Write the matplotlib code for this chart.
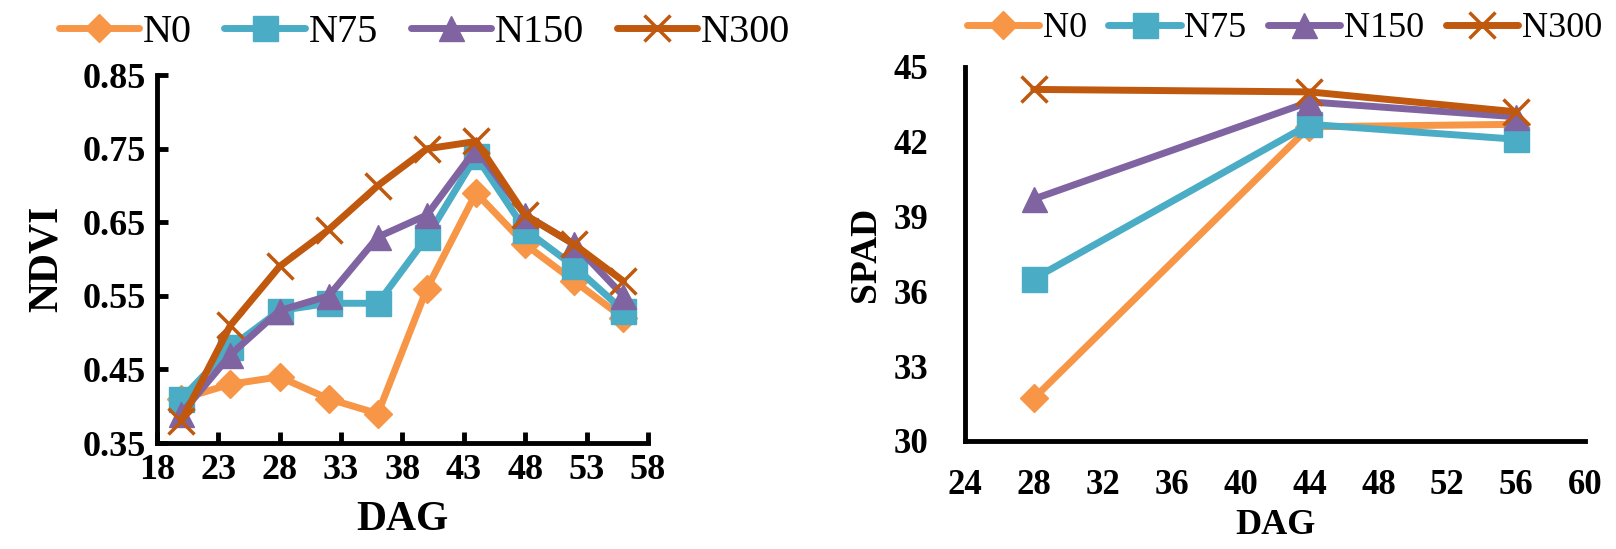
import matplotlib
matplotlib.use('Agg')
import matplotlib.pyplot as plt

plt.rcParams['font.family'] = ['Liberation Serif', 'DejaVu Serif']

# NDVI over days after germination
dag_ndvi = [20, 24, 28, 32, 36, 40, 44, 48, 52, 56]
ndvi_n0 = [0.41, 0.43, 0.44, 0.41, 0.39, 0.56, 0.69, 0.62, 0.57, 0.52]
ndvi_n75 = [0.41, 0.48, 0.53, 0.54, 0.54, 0.63, 0.74, 0.64, 0.59, 0.53]
ndvi_n150 = [0.39, 0.47, 0.53, 0.55, 0.63, 0.66, 0.75, 0.66, 0.62, 0.55]
ndvi_n300 = [0.38, 0.51, 0.59, 0.64, 0.70, 0.75, 0.76, 0.66, 0.62, 0.57]

# SPAD readings
dag_spad = [28, 44, 56]
spad_n0 = [31.7, 42.6, 42.7]
spad_n75 = [36.5, 42.7, 42.1]
spad_n150 = [39.7, 43.6, 43.0]
spad_n300 = [44.1, 44.0, 43.2]

labels = ['N0', 'N75', 'N150', 'N300']
colors = ['#F79646', '#4BACC6', '#8064A2', '#C0580E']
markers = ['D', 's', '^', 'x']
msizes = [14, 18, 18, 19]

fig = plt.figure(figsize=(16.16, 5.49), dpi=100)
ax1 = fig.add_axes([0.097, 0.193, 0.304, 0.670])
ax2 = fig.add_axes([0.597, 0.197, 0.384, 0.681])

def draw(ax, x, series, legsize, legspace, legx):
    for s, lab, c, m, ms in zip(series, labels, colors, markers, msizes):
        ax.plot(x, s, color=c, lw=5, marker=m, markersize=ms,
                markeredgewidth=2.5 if m == 'x' else 1, markeredgecolor=c,
                label=lab, solid_capstyle='round')
    for side in ['top', 'right']:
        ax.spines[side].set_visible(False)
    for side in ['left', 'bottom']:
        ax.spines[side].set_linewidth(3.5)
    ax.legend(loc='lower center', bbox_to_anchor=(legx, 1.0), ncol=4, frameon=False,
              fontsize=legsize, handlelength=2.0, handletextpad=0.1,
              columnspacing=legspace, borderaxespad=0.2)

draw(ax1, dag_ndvi, [ndvi_n0, ndvi_n75, ndvi_n150, ndvi_n300], 29, 0.8, 0.545)
ax1.set_xlim(18, 58)
ax1.set_ylim(0.35, 0.85)
ax1.set_xticks(range(18, 59, 5))
ax1.set_yticks([0.35, 0.45, 0.55, 0.65, 0.75, 0.85])
ax1.set_yticklabels(['0.35', '0.45', '0.55', '0.65', '0.75', '0.85'])
ax1.tick_params(direction='in', length=8, width=3.5, labelsize=26, pad=8)
ax1.set_xlabel('DAG', fontsize=30, fontweight='bold', labelpad=10)
ax1.set_ylabel('NDVI', fontsize=30, fontweight='bold', labelpad=12)

draw(ax2, dag_spad, [spad_n0, spad_n75, spad_n150, spad_n300], 26, 0.6, 0.515)
ax2.set_xlim(24, 60)
ax2.set_ylim(30, 45)
ax2.set_xticks(range(24, 61, 4))
ax2.set_yticks(range(30, 46, 3))
ax2.tick_params(length=0, labelsize=25)
ax2.tick_params(axis='y', pad=26)
ax2.tick_params(axis='x', pad=20)
ax2.set_xlabel('DAG', fontsize=26, fontweight='bold', labelpad=5)
ax2.set_ylabel('SPAD', fontsize=27, fontweight='bold', labelpad=8)

for ax in (ax1, ax2):
    for t in ax.get_xticklabels() + ax.get_yticklabels():
        t.set_fontweight('bold')

fig.savefig('out.png', dpi=100)
